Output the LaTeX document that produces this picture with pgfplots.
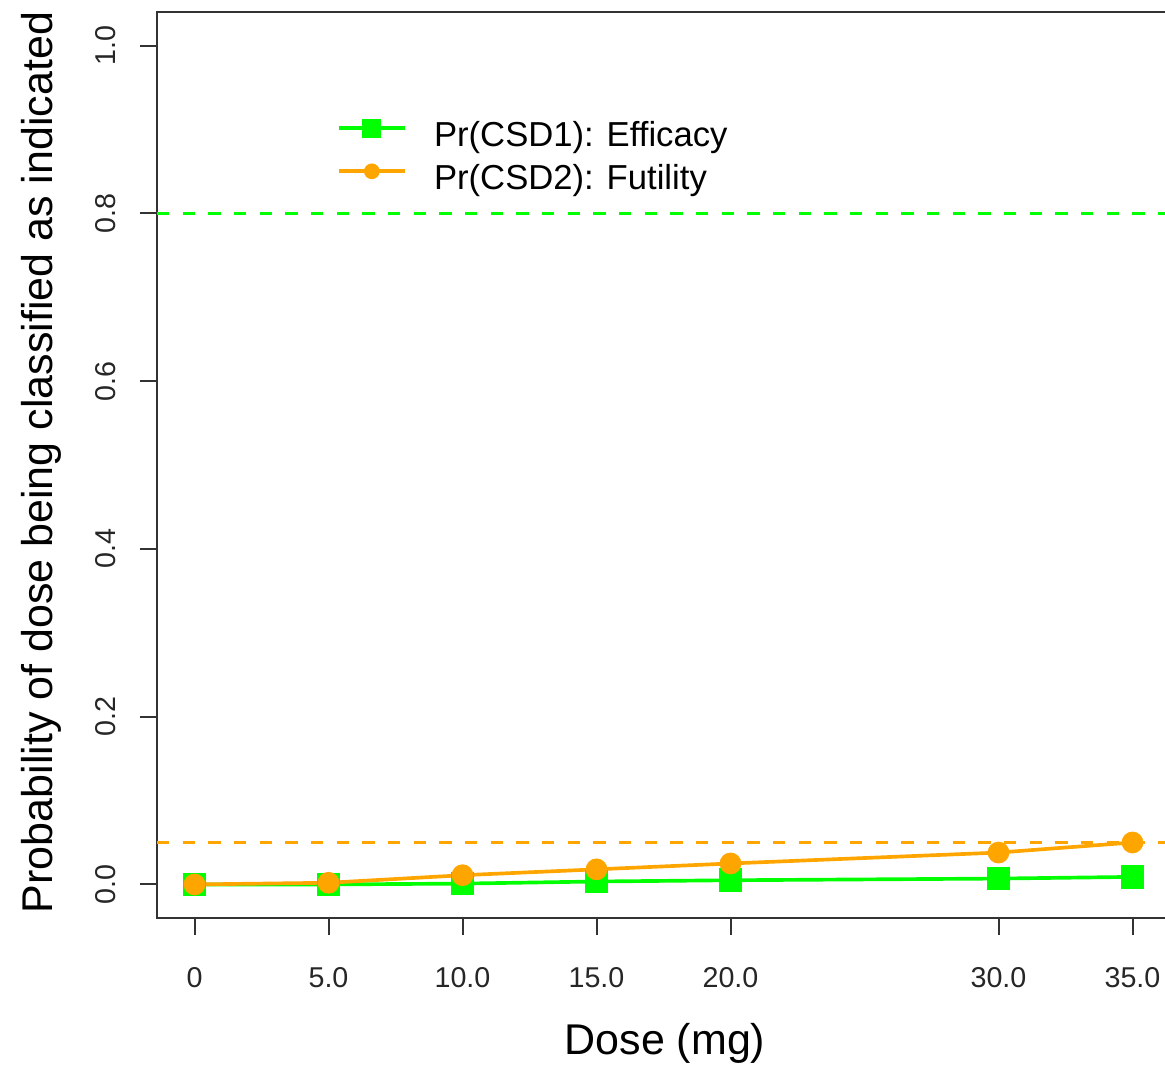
\documentclass[border=0pt]{standalone}
\usepackage{fontspec}
\setmainfont{Liberation Sans}
\usepackage{pgfplots}
\pgfplotsset{compat=1.18}
\definecolor{rgreen}{HTML}{00FF00}
\definecolor{rorange}{HTML}{FFA500}
\begin{document}
\begin{tikzpicture}
\path[use as bounding box] (-47.1pt,-44.7pt) rectangle (302.4pt,275.4pt);
\clip (-47.1pt,-44.7pt) rectangle (302.4pt,275.4pt);
\begin{axis}[
  at={(0pt,0pt)}, anchor=south west,
  scale only axis, width=303.9pt, height=271.8pt,
  xmin=-1.4, xmax=36.4, ymin=-0.04, ymax=1.04,
  xtick={0,5,10,15,20,30,35},
  xticklabels={0,5.0,10.0,15.0,20.0,30.0,35.0},
  ytick={0,0.2,0.4,0.6,0.8,1.0},
  yticklabels={0.0,0.2,0.4,0.6,0.8,1.0},
  tick align=outside, xtick pos=left, ytick pos=left,
  major tick length=5.1pt,
  tick style={black!80, line width=0.6pt},
  axis line style={black!80, line width=0.6pt},
  ticklabel style={font=\fontsize{8.6}{10}\selectfont, text=black!85},
  xticklabel shift=6.1pt,
  yticklabel shift=3.7pt,
  yticklabel style={rotate=90, anchor=south},
  xlabel={Dose (mg)},
  ylabel={Probability of dose being classified as indicated},
  label style={font=\fontsize{12.9}{15}\selectfont},
  xlabel style={at={(axis description cs:0.5015,-0.1512)}, anchor=base},
  ylabel style={at={(axis description cs:-0.1027,0.5028)}, anchor=base, rotate=0},
  legend style={at={(axis description cs:0.1777,0.8808)}, anchor=north west,
    draw=none, fill=none, inner sep=0pt, outer sep=0pt,
    font=\fontsize{10.4}{12}\selectfont, row sep=2.5pt,
    nodes={inner sep=0pt, text height=8pt, text depth=2.4pt},
    /tikz/every odd column/.style={column sep=8.2pt}},
  legend cell align=left,
  legend image code/.code={\draw[mark repeat=2,mark phase=2,#1]
    plot coordinates {(0pt,2.7pt) (9.9pt,2.7pt) (19.8pt,2.7pt)};},
]
% reference lines
\addplot[forget plot, rgreen, line width=1pt, dash pattern=on 3.7pt off 4pt]
  coordinates {(-1.4,0.8) (36.4,0.8)};
\addplot[forget plot, rorange, line width=1pt, dash pattern=on 3.7pt off 4pt]
  coordinates {(-1.4,0.05) (36.4,0.05)};
% efficacy
\addplot[rgreen, line width=1.1pt, mark=square*, mark size=3pt,
  mark options={solid, fill=rgreen, draw=none},
  legend image post style={mark size=2.3pt}]
  coordinates {(0,0) (5,0) (10,0.001) (15,0.0035) (20,0.005) (30,0.007) (35,0.009)};
% futility
\addplot[rorange, line width=1.1pt, mark=*, mark size=2.7pt,
  mark options={solid, fill=rorange, draw=none},
  legend image post style={mark size=1.8pt}]
  coordinates {(0,0) (5,0.002) (10,0.011) (15,0.018) (20,0.025) (30,0.038) (35,0.050)};
\legend{Pr(CSD1): Efficacy, Pr(CSD2): Futility}
\end{axis}
\end{tikzpicture}
\end{document}
